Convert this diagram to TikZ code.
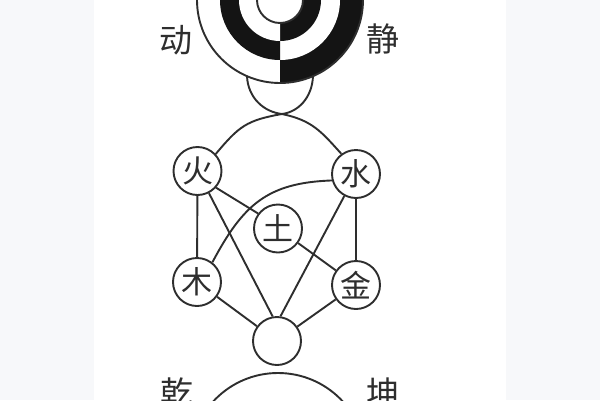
\documentclass[tikz,border=0pt]{standalone}
\usepackage{fontspec}
\newfontfamily\cjk{Noto Sans CJK SC}
\definecolor{tinta}{HTML}{2E2E2E}
\definecolor{preto}{HTML}{141414}
\definecolor{fundo}{HTML}{F7F8FA}
\tikzset{
  elem/.style={circle, draw=tinta, line width=1.9pt, minimum size=48pt, inner sep=0pt,
    font=\cjk\fontsize{31}{31}\selectfont, text=tinta},
  rotulo/.style={font=\cjk\fontsize{33}{33}\selectfont, text=tinta},
  traco/.style={draw=tinta, line width=1.9pt}
}
\begin{document}
\begin{tikzpicture}[x=1pt, y=1pt]
	\useasboundingbox (0,0) rectangle (600,-400);
	\clip (0,0) rectangle (600,-400);
	\fill[fundo] (0,0) rectangle (600,-400);
	\fill[white] (94,0) rectangle (506,-400);

% circulo superior
	\foreach \r/\cor in {83/preto, 60/white, 41/preto}
		\fill[\cor] (280,0) -- ++(90:\r pt) arc[start angle=90, end angle=-90, radius=\r pt] -- cycle;
	\foreach \r/\cor in {60/preto, 41/white}
		\fill[\cor] (280,0) -- ++(90:\r pt) arc[start angle=90, end angle=270, radius=\r pt] -- cycle;
	\filldraw[traco, fill=white] (280,0) circle[radius=23pt];
	\draw[traco] (280,0) circle[radius=83pt];
	\node[rotulo] (dong) at (176,-40) {动};
	\node[rotulo] (jing) at (383,-39) {静};

% taca
	\coordinate (taca) at (282,-114);
	\draw[traco] (247,-76.2) .. controls (248,-98) and (264,-112) .. (taca)
		.. controls (298,-112) and (312,-98) .. (313,-76.2);

% cinco elementos
	\node[elem] (huo)  at (197.5,-171) {火};
	\node[elem] (shui) at (356,-174)   {水};
	\node[elem] (tu)   at (278,-228.5) {土};
	\node[elem] (mu)   at (197,-282)   {木};
	\node[elem] (jin)  at (356,-285)   {金};
	\node[elem] (miao) at (277,-341)   {};

	\draw[traco] (taca) to[out=190, in=50, looseness=1.2] (huo.43);
	\draw[traco] (taca) to[out=-12, in=132, looseness=1.1] (shui.126);
	\draw[traco] (huo) -- (mu);
	\draw[traco] (shui) -- (jin);
	\draw[traco] (huo.-42) -- (tu.143);
	\draw[traco] (tu) -- (jin);
	\draw[traco] (shui.195) to[out=182, in=62, looseness=1.15] (mu.52);
	\draw[traco] (huo) -- (miao.100);
	\draw[traco] (shui) -- (miao.82);
	\draw[traco] (mu) -- (miao);
	\draw[traco] (jin) -- (miao);

% circulo inferior
	\draw[traco] (278,-461) circle[radius=88pt];
	\node[rotulo] (qian) at (177,-393) {乾};
	\node[rotulo] (kun)  at (383,-393) {坤};
\end{tikzpicture}
\end{document}
